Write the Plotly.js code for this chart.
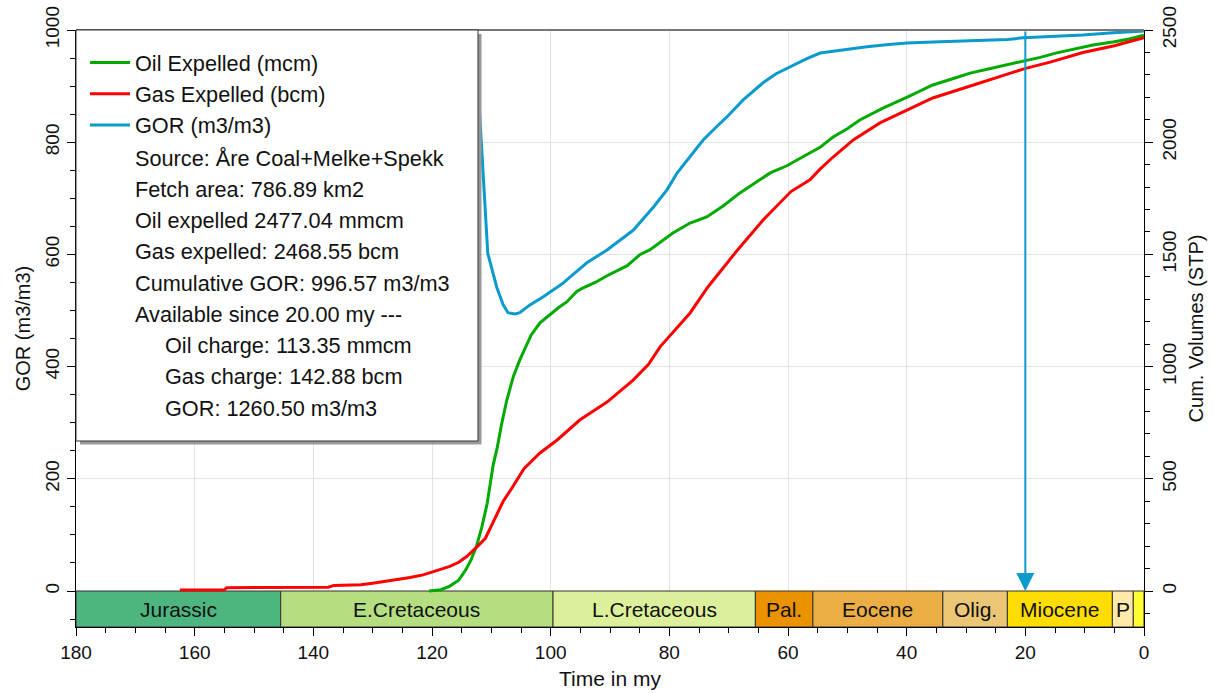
<!DOCTYPE html>
<html>
<head>
<meta charset="utf-8">
<script src="https://cdn.plot.ly/plotly-3.0.1.min.js"></script>
<style>html,body{margin:0;padding:0;background:#fff;}#chart{width:1214px;height:693px;}</style>
</head>
<body>
<div id="chart"></div>
<script>
// ---- Data ----
// GOR (m3/m3), left axis
const gorTime = [116, 114, 112.1, 110.6, 109.1, 108.0, 107.2, 106.0, 105.2, 103.5, 101.3, 99.6, 98.0, 96.7, 93.9, 90.5, 88.0, 86.1, 82.7, 80.4, 78.7, 76.0, 74.3, 72.0, 70.3, 67.6, 64.2, 62.0, 59.7, 57.0, 54.6, 50.5, 46.7, 43.0, 39.9, 34.4, 30.5, 27.1, 23.0, 20.4, 15.8, 10.3, 5.2, 0];
const gorValues = [1400, 1150, 875, 602, 542, 510, 496, 494, 496, 510, 524, 537, 548, 560, 585, 608, 628, 643, 684, 715, 745, 781, 804, 828, 845, 875, 906, 922, 934, 948, 959, 965, 970, 974, 977, 979, 980, 981, 983, 986, 988, 991, 995, 998];

// Oil expelled (mcm), right axis
const oilTime = [120.5, 118.5, 117, 115.5, 114.3, 113.4, 112.5, 111.6, 110.7, 109.7, 109.0, 108.3, 107.4, 106.3, 105.2, 104.2, 103.3, 101.8, 100.1, 98.7, 97.3, 95.6, 94.6, 92.5, 90.5, 87.1, 84.9, 83.3, 79.4, 76.5, 73.7, 71.0, 68.1, 65.5, 63.0, 60.2, 57.5, 54.6, 52.4, 50.0, 47.9, 44.0, 39.9, 35.6, 32.0, 29.3, 25.5, 23.0, 20.4, 17.5, 14.7, 12.0, 8.6, 5.0, 2.5, 0];
const oilValues = [0, 6, 22, 48, 95, 140, 200, 285, 390, 560, 640, 740, 850, 955, 1030, 1090, 1140, 1195, 1232, 1262, 1288, 1335, 1350, 1375, 1405, 1450, 1500, 1520, 1595, 1640, 1667, 1715, 1774, 1818, 1863, 1895, 1935, 1977, 2023, 2060, 2099, 2152, 2201, 2255, 2285, 2308, 2331, 2345, 2359, 2378, 2398, 2415, 2433, 2448, 2460, 2477];

// Gas expelled (bcm), right axis
const gasTime = [162.5, 155, 154.6, 146, 137.5, 136.5, 132, 130, 128.3, 126, 123.7, 121.5, 119.8, 118.7, 117, 115.5, 114.1, 113.1, 112.3, 111.0, 109.5, 108.0, 106.5, 104.5, 101.8, 100.0, 98.9, 95.1, 90.5, 86.1, 83.5, 81.6, 78.5, 76.5, 73.5, 68.5, 64.2, 59.5, 56.3, 54.6, 52.4, 49.0, 44.5, 39.9, 35.6, 29.8, 24.3, 20.1, 15.8, 10.3, 5.0, 0];
const gasValues = [4, 5, 15, 16, 17, 25, 28, 35, 42, 50, 60, 72, 85, 95, 110, 128, 155, 178, 200, 235, 320, 400, 460, 545, 615, 650, 673, 762, 842, 940, 1010, 1087, 1180, 1239, 1355, 1520, 1653, 1780, 1832, 1880, 1934, 2010, 2086, 2143, 2197, 2246, 2291, 2328, 2357, 2400, 2430, 2466];

// Geological time strip
const periodNames = ["Jurassic", "E.Cretaceous", "L.Cretaceous", "Pal.", "Eocene", "Olig.", "Miocene", "P", ""];
const periodStart = [180, 145.5, 99.6, 65.5, 55.8, 33.9, 23.03, 5.332, 1.806];
const periodEnd = [145.5, 99.6, 65.5, 55.8, 33.9, 23.03, 5.332, 1.806, 0];
const periodColors = ["#4db57f", "#b4de80", "#dcf09b", "#ea9200", "#eaae45", "#ebc775", "#ffdd00", "#ffeaaa", "#ffff33"];

// Legend info text
const infoLines = ["Source: Åre Coal+Melke+Spekk", "Fetch area: 786.89 km2", "Oil expelled 2477.04 mmcm", "Gas expelled: 2468.55 bcm", "Cumulative GOR: 996.57 m3/m3", "Available since 20.00 my ---"];
const chargeLines = ["Oil charge: 113.35 mmcm", "Gas charge: 142.88 bcm", "GOR: 1260.50 m3/m3"];
const availableSince = 20;

// ---- Layout constants ----
const FONT = "Liberation Sans, Arial, Helvetica, sans-serif";
const W = 1214, H = 693;
const M = {l: 76, r: 70, t: 30, b: 66};
const PW = W - M.l - M.r, PH = H - M.t - M.b;
const yLeftRange = [-64.17, 1000];
const yRightRange = [-160.4, 2500];
const px2x = p => (p - M.l) / PW;
const py2y = p => (H - M.b - p) / PH;
const TXT = 21.7;

const traces = [
  {x: oilTime, y: oilValues, yaxis: "y2", type: "scatter", mode: "lines", name: "Oil Expelled (mcm)",
   line: {color: "#00aa00", width: 3}},
  {x: gasTime, y: gasValues, yaxis: "y2", type: "scatter", mode: "lines", name: "Gas Expelled (bcm)",
   line: {color: "#ff0000", width: 3}},
  {x: gorTime, y: gorValues, yaxis: "y", type: "scatter", mode: "lines", name: "GOR (m3/m3)",
   line: {color: "#0a9acc", width: 3}}
];

const shapes = [];
const annotations = [];

// time strip
periodNames.forEach((n, i) => {
  shapes.push({type: "rect", xref: "x", yref: "y", x0: periodStart[i], x1: periodEnd[i], y0: yLeftRange[0], y1: 0,
    fillcolor: periodColors[i], line: {color: "#333", width: 1}, layer: "between"});
  if (n) annotations.push({xref: "x", yref: "y", x: (periodStart[i] + periodEnd[i]) / 2, y: yLeftRange[0] / 2,
    text: n, showarrow: false, font: {family: FONT, size: 21, color: "#111"}, xanchor: "center", yanchor: "middle"});
});

// top border
shapes.push({type: "line", xref: "paper", yref: "paper", x0: 0, x1: 1, y0: 1, y1: 1, line: {color: "#777", width: 2}, layer: "above"});

// legend box with shadow
shapes.push({type: "rect", xref: "paper", yref: "paper", x0: px2x(80), x1: px2x(481.5), y0: py2y(444.5), y1: py2y(34),
  fillcolor: "#999", line: {width: 0}, layer: "above"});
shapes.push({type: "rect", xref: "paper", yref: "paper", x0: 0, x1: px2x(478), y0: py2y(441), y1: 1,
  fillcolor: "#fff", line: {color: "#333", width: 1}, layer: "above"});

// info lines
const lineY0 = 158, lineStep = 31.25;
infoLines.forEach((t, i) => {
  annotations.push({xref: "paper", yref: "paper", x: px2x(133), y: py2y(lineY0 + i * lineStep), text: t, showarrow: false,
    xanchor: "left", yanchor: "middle", font: {family: FONT, size: TXT, color: "#111"}});
});
chargeLines.forEach((t, i) => {
  annotations.push({xref: "paper", yref: "paper", x: px2x(163), y: py2y(lineY0 + (infoLines.length + i) * lineStep), text: t, showarrow: false,
    xanchor: "left", yanchor: "middle", font: {family: FONT, size: TXT, color: "#111"}});
});

// availability arrow
annotations.push({xref: "x", yref: "y", x: availableSince, y: 0, axref: "x", ayref: "y", ax: availableSince, ay: yLeftRange[1],
  text: "", showarrow: true, arrowhead: 2, arrowsize: 1.8, arrowwidth: 2, arrowcolor: "#0a9acc", standoff: 0});

const axisCommon = {
  showline: true, linecolor: "#000", linewidth: 1, ticks: "outside", ticklen: 8, tickcolor: "#000",
  zeroline: false, tickfont: {family: FONT, size: 19, color: "#111"}
};

const layout = {
  width: W, height: H,
  margin: M,
  paper_bgcolor: "#fff", plot_bgcolor: "#fff",
  font: {family: FONT, size: 19, color: "#111"},
  showlegend: true,
  legend: {x: px2x(85), y: py2y(42), xanchor: "left", yanchor: "top", bgcolor: "rgba(0,0,0,0)", borderwidth: 0,
    font: {family: FONT, size: TXT, color: "#111"}, itemwidth: 40, tracegroupgap: 0},
  xaxis: Object.assign({}, axisCommon, {
    range: [180, 0], tick0: 0, dtick: 20, showgrid: true, gridcolor: "#e2e2e2", gridwidth: 1,
    minor: {dtick: 5, ticks: "outside", ticklen: 5, tickcolor: "#000", showgrid: false},
    title: {text: "Time in my", font: {family: FONT, size: 21, color: "#111"}, standoff: 9}
  }),
  yaxis: Object.assign({}, axisCommon, {
    range: yLeftRange, tickvals: [0, 200, 400, 600, 800, 1000], tickangle: -90,
    showgrid: true, gridcolor: "#e2e2e2", gridwidth: 1,
    minor: {tickvals: [-50, 50, 100, 150, 250, 300, 350, 450, 500, 550, 650, 700, 750, 850, 900, 950], ticks: "outside", ticklen: 5, tickcolor: "#000", showgrid: false},
    title: {text: "GOR (m3/m3)", font: {family: FONT, size: 20, color: "#111"}, standoff: 6}
  }),
  yaxis2: Object.assign({}, axisCommon, {
    overlaying: "y", side: "right", range: yRightRange, tickvals: [0, 500, 1000, 1500, 2000, 2500], tickangle: -90,
    showgrid: false,
    minor: {tickvals: [-100, 100, 200, 300, 400, 600, 700, 800, 900, 1100, 1200, 1300, 1400, 1600, 1700, 1800, 1900, 2100, 2200, 2300, 2400], ticks: "outside", ticklen: 5, tickcolor: "#000", showgrid: false},
    title: {text: "Cum. Volumes (STP)", font: {family: FONT, size: 20, color: "#111"}, standoff: 10}
  }),
  shapes: shapes,
  annotations: annotations
};

Plotly.newPlot("chart", traces, layout, {displayModeBar: false, responsive: false});
</script>
</body>
</html>
